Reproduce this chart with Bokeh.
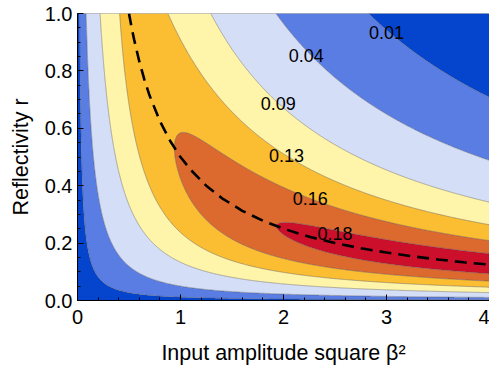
import numpy as np
from bokeh.plotting import figure
from bokeh.models import FixedTicker, PrintfTickFormatter, Range1d
from bokeh.core.properties import value
from bokeh.embed import file_html
from bokeh.resources import INLINE

# ---- values ----
levels = [0.01, 0.04, 0.09, 0.13, 0.16, 0.18]
level_labels = ["0.01", "0.04", "0.09", "0.13", "0.16", "0.18"]

# dashed optimum curve (r * beta^2 = 0.5)
opt_beta2 = [0.5, 0.525, 0.55, 0.6, 0.65, 0.7, 0.8, 0.9, 1.0, 1.1, 1.25, 1.4,
             1.6, 1.8, 2.0, 2.25, 2.5, 2.75, 3.0, 3.25, 3.5, 3.75, 4.0]
opt_r = [1.0, 0.952, 0.909, 0.833, 0.769, 0.714, 0.625, 0.556, 0.5, 0.455, 0.4,
         0.357, 0.3125, 0.278, 0.25, 0.222, 0.2, 0.182, 0.167, 0.154, 0.143,
         0.133, 0.125]

x_ticks = [0, 1, 2, 3, 4]
y_ticks = [0.0, 0.2, 0.4, 0.6, 0.8, 1.0]

# parameters of the plotted surface, estimated from the contours
optimum_x = 0.5      # r*beta^2 on the ridge
amplitude = 1.02
low_beta_dip = 0.5   # drop of the surface at small beta^2
dip_rate = 1.3

# ---- surface on a grid ----
gb = np.linspace(0, 4, 401)
gr = np.linspace(0, 1, 301)
BB, RR = np.meshgrid(gb, gr)
XX = RR * BB
Z = amplitude * XX * np.exp(-XX / optimum_x) * (1 - low_beta_dip * np.exp(-dip_rate * BB))

fill_colors = ["#0545cd", "#5a7de4", "#d5def7", "#fff5aa", "#fbbd32", "#dc692d", "#cc0f2a"]

p = figure(width=489, height=371, x_range=Range1d(0, 4.0), y_range=Range1d(0, 1),
           output_backend="svg", toolbar_location=None,
           min_border_left=77, min_border_right=0, min_border_top=13, min_border_bottom=71)

p.contour(gb, gr, Z, levels=[-1.0] + levels + [1.0], fill_color=fill_colors,
          line_color="#555555", line_alpha=0.55, line_width=0.8)

p.line(opt_beta2, opt_r, line_color="black", line_width=2.6, line_dash="12 7")

label_x = [3.0, 2.22, 1.95, 2.03, 2.26, 2.5]
label_y = [0.934, 0.854, 0.686, 0.505, 0.355, 0.233]
p.text(x=label_x, y=label_y, text=level_labels, text_font=value("Liberation Sans"),
       text_font_size="18px", text_align="center", text_baseline="middle", text_color="black")

p.grid.visible = False
p.outline_line_color = "#b5b5b5"
p.background_fill_color = "white"
p.border_fill_color = "white"

p.xaxis.ticker = FixedTicker(ticks=x_ticks, minor_ticks=list(np.round(np.arange(0, 4.01, 0.2), 2)))
p.yaxis.ticker = FixedTicker(ticks=y_ticks, minor_ticks=list(np.round(np.arange(0, 1.001, 0.05), 3)))
p.yaxis.formatter = PrintfTickFormatter(format="%.1f")
p.xaxis.axis_label = "Input amplitude square β²"
p.yaxis.axis_label = "Reflectivity r"
for ax in (p.xaxis[0], p.yaxis[0]):
    ax.axis_line_color = "black"
    ax.axis_line_width = 1
    ax.major_tick_line_color = "black"
    ax.minor_tick_line_color = "black"
    ax.major_tick_in = 6
    ax.major_tick_out = 0
    ax.minor_tick_in = 3
    ax.minor_tick_out = 0
    ax.major_label_text_font = "Liberation Sans"
    ax.major_label_text_font_size = "20px"
    ax.major_label_text_color = "black"
    ax.axis_label_text_font = "Liberation Sans"
    ax.axis_label_text_font_size = "21.5px"
    ax.axis_label_text_font_style = "normal"
    ax.axis_label_text_color = "black"
p.yaxis[0].major_label_standoff = 5
p.yaxis[0].axis_label_standoff = 9
p.xaxis[0].major_label_standoff = 9
p.xaxis[0].axis_label_standoff = 14

open("out.html", "w").write(file_html(p, INLINE))
